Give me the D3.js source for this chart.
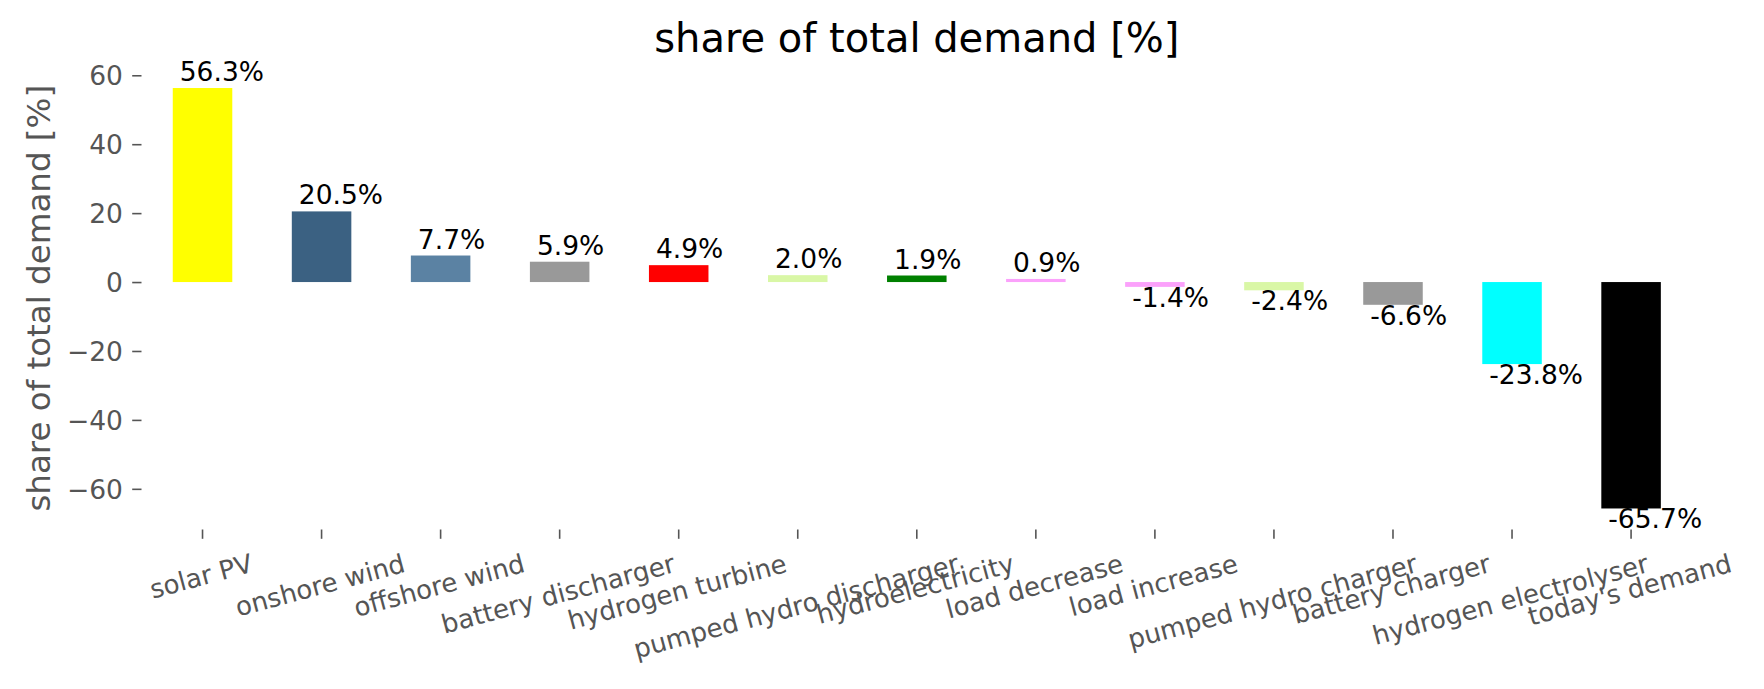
<!DOCTYPE html>
<html>
<head>
<meta charset="utf-8">
<script src="https://cdn.jsdelivr.net/npm/d3@7"></script>
<style>
  html, body { margin: 0; padding: 0; background: #fff; }
  text { font-family: "DejaVu Sans", sans-serif; }
</style>
</head>
<body>
<div id="chart"></div>
<script>
// categories and their share of total demand (%)
const categories = [
    "solar PV", "onshore wind", "offshore wind", "battery discharger",
    "hydrogen turbine", "pumped hydro discharger", "hydroelectricity",
    "load decrease", "load increase", "pumped hydro charger",
    "battery charger", "hydrogen electrolyser", "today's demand"
];
const shares = [56.3, 20.5, 7.7, 5.9, 4.9, 2.0, 1.9, 0.9, -1.4, -2.4, -6.6, -23.8, -65.7];
const barColors = [
    "#ffff00", "#3b6182", "#5b82a3", "#999999",
    "#ff0000", "#d9f7a6", "#008000",
    "#fba1fb", "#fba1fb", "#d9f7a6",
    "#999999", "#00ffff", "#000000"
];
const yTicks = [-60, -40, -20, 0, 20, 40, 60];

const width = 1764, height = 689;
const margin = { left: 143, right: 73.4, top: 67, bottom: 159.5 };
const axisColor = "#555555";

const svg = d3.select("#chart").append("svg")
    .attr("width", width)
    .attr("height", height);

// x: one band per category, bars half as wide as the step (pandas default)
const x = d3.scaleBand()
    .domain(categories)
    .range([margin.left, width - margin.right])
    .paddingInner(0.5)
    .paddingOuter(0.25);

// y: data range plus 5% margin each side, like matplotlib autoscale
const lo = d3.min(shares.concat([0])), hi = d3.max(shares.concat([0]));
const pad = (hi - lo) * 0.05;
const y = d3.scaleLinear()
    .domain([lo - pad, hi + pad])
    .range([height - margin.bottom, margin.top]);

const tickLen = 9.3, tickPad = 9.3;

// title
svg.append("text")
    .attr("x", (x.range()[0] + x.range()[1]) / 2)
    .attr("y", 51.7)
    .attr("text-anchor", "middle")
    .attr("font-size", 40)
    .attr("fill", "#000")
    .text("share of total demand [%]");

// y label
svg.append("text")
    .attr("transform", `translate(50,${(y.range()[0] + y.range()[1]) / 2}) rotate(-90)`)
    .attr("text-anchor", "middle")
    .attr("font-size", 32.5)
    .attr("fill", axisColor)
    .text("share of total demand [%]");

// y axis (no spine, ticks only)
const yAxis = svg.append("g")
    .attr("transform", `translate(${margin.left - 1.5},0)`)
    .call(d3.axisLeft(y).tickValues(yTicks)
        .tickSize(tickLen).tickPadding(tickPad)
        .tickFormat(d => d < 0 ? "\u2212" + Math.abs(d) : d));
yAxis.select(".domain").remove();
yAxis.selectAll(".tick line").attr("stroke", axisColor).attr("stroke-width", 1.6);
yAxis.selectAll(".tick text")
    .attr("fill", axisColor)
    .attr("font-size", 26.5)
    .attr("font-family", "DejaVu Sans")
    .attr("dy", "0.35em");

// x axis ticks
const xAxis = svg.append("g")
    .attr("transform", `translate(0,${y.range()[0]})`)
    .call(d3.axisBottom(x).tickSize(tickLen).tickFormat(""));
xAxis.select(".domain").remove();
xAxis.selectAll(".tick line").attr("stroke", axisColor).attr("stroke-width", 1.6);

// rotated x labels, centred on the tick, rotated bbox hanging below
const theta = 15 * Math.PI / 180;
const xfs = 26;
const labelTop = y.range()[0] + tickLen + tickPad;
const xLabels = svg.append("g").selectAll("text")
    .data(categories)
    .join("text")
    .attr("font-size", xfs)
    .attr("fill", axisColor)
    .attr("text-anchor", "middle")
    .attr("dy", "0.35em")
    .text(d => d);
xLabels.each(function(d) {
    const w = this.getComputedTextLength();
    const h = 1.164 * xfs;
    const bh = w * Math.sin(theta) + h * Math.cos(theta);
    const cx = x(d) + x.bandwidth() / 2 - 1.5;
    const cy = labelTop + bh / 2;
    d3.select(this)
        .attr("x", cx)
        .attr("y", cy)
        .attr("transform", `rotate(-15,${cx},${cy})`);
});

// bars
svg.append("g").selectAll("rect")
    .data(categories)
    .join("rect")
    .attr("x", d => x(d))
    .attr("width", x.bandwidth())
    .attr("y", (d, i) => y(Math.max(0, shares[i])))
    .attr("height", (d, i) => Math.abs(y(shares[i]) - y(0)))
    .attr("fill", (d, i) => barColors[i]);

// value labels
svg.append("g").selectAll("text")
    .data(categories)
    .join("text")
    .attr("x", d => x(d) + 7)
    .attr("y", (d, i) => shares[i] >= 0 ? y(shares[i]) - 7 : y(shares[i]) + 20)
    .attr("font-size", 26.5)
    .attr("fill", "#000")
    .text((d, i) => shares[i].toFixed(1) + "%");
</script>
</body>
</html>
